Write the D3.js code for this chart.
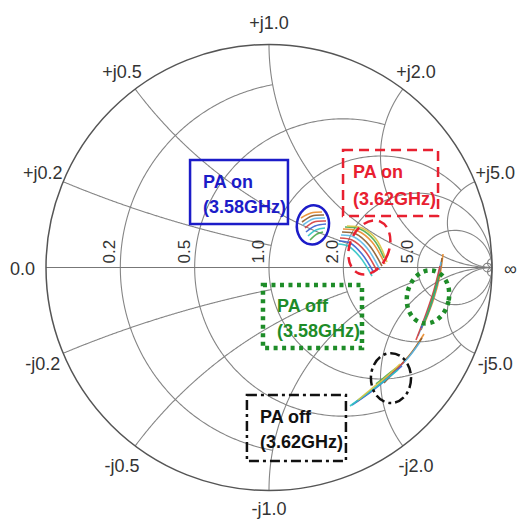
<!DOCTYPE html>
<html><head><meta charset="utf-8">
<script src="https://cdn.jsdelivr.net/npm/d3@7"></script>
<style>body{margin:0;background:#fff}svg{display:block}</style>
</head><body>
<svg id="c" width="517" height="522"></svg>
<script>
// ---------- grid definition (normalized impedance) ----------
const resistanceCircles = [0.2, 0.5, 1.0, 2.0, 5.0, 50];
const resistanceLimits  = [1, 2, 5, Infinity, Infinity, Infinity];   // |x| extent of each r circle
const reactanceArcs     = [0.2, 0.5, 1.0, 2.0, 5.0, 50];
const reactanceLimits   = [1, 2, 5, Infinity, Infinity, Infinity];   // r extent of each x arc
const resistanceLabels  = ["0.2", "0.5", "1.0", "2.0", "5.0"];
const reactanceLabelsPos = ["+j0.2", "+j0.5", "+j1.0", "+j2.0", "+j5.0"];
const reactanceLabelsNeg = ["-j0.2", "-j0.5", "-j1.0", "-j2.0", "-j5.0"];

// ---------- measured reflection coefficients [Re(Γ), Im(Γ)] ----------
const paOn358 = [
  [[0.1435,0.2220],[0.1883,0.2444],[0.2377,0.2489]],
  [[0.1480,0.2040],[0.1928,0.2309],[0.2466,0.2354]],
  [[0.1525,0.1906],[0.1973,0.2175],[0.2511,0.2220]],
  [[0.1614,0.1771],[0.2018,0.2040],[0.2556,0.2085]],
  [[0.1659,0.1592],[0.2063,0.1861],[0.2556,0.1951]],
  [[0.1749,0.1413],[0.2108,0.1682],[0.2511,0.1771]],
  [[0.1839,0.1233],[0.2152,0.1502],[0.2422,0.1592]]
];
const paOn362 = [
  [[0.3318,0.1726],[0.3991,0.1637],[0.4619,0.1143],[0.5202,0.0157]],
  [[0.3274,0.1592],[0.3901,0.1502],[0.4484,0.1009],[0.5067,0.0067]],
  [[0.3229,0.1457],[0.3812,0.1368],[0.4395,0.0874],[0.4978,-0.0112]],
  [[0.3184,0.1323],[0.3722,0.1233],[0.4305,0.0740],[0.4843,-0.0157]],
  [[0.3139,0.1188],[0.3632,0.1099],[0.4170,0.0605],[0.4709,-0.0247]],
  [[0.3094,0.1054],[0.3543,0.0964],[0.4081,0.0471],[0.4619,-0.0381]],
  [[0.3408,0.1816],[0.4081,0.1726],[0.4709,0.1233],[0.5157,0.0426]],
  [[0.3498,0.1861],[0.4170,0.1771],[0.4798,0.1278],[0.5291,0.0247]]
];
const paOff358 = [
  [[0.7803,0.0605],[0.7668,-0.0336],[0.7399,-0.1368],[0.6996,-0.2444]],
  [[0.7758,0.0426],[0.7578,-0.0561],[0.7265,-0.1592],[0.6816,-0.2803]],
  [[0.7713,0.0247],[0.7489,-0.0785],[0.7130,-0.1906],[0.6682,-0.3072]],
  [[0.7668,0.0067],[0.7399,-0.1009],[0.7040,-0.2085],[0.6592,-0.3251]],
  [[0.7578,-0.0561],[0.7399,-0.1233],[0.7130,-0.2040],[0.6816,-0.2713]],
  [[0.7534,-0.0740],[0.7354,-0.1368],[0.7085,-0.2130],[0.6861,-0.2623]],
  [[0.7623,-0.0336],[0.7444,-0.1009],[0.7175,-0.1906],[0.6906,-0.2578]]
];
const paOff362 = [
  [[0.6951,-0.2982],[0.6413,-0.3789],[0.5785,-0.4507],[0.5247,-0.5045]],
  [[0.6861,-0.3161],[0.6323,-0.3924],[0.5695,-0.4596],[0.5157,-0.5179]],
  [[0.6771,-0.3341],[0.6233,-0.4058],[0.5605,-0.4686]],
  [[0.6054,-0.4238],[0.5426,-0.4821],[0.4753,-0.5404],[0.3901,-0.6031]],
  [[0.5964,-0.4417],[0.5336,-0.4955],[0.4619,-0.5538],[0.3722,-0.6166]],
  [[0.5785,-0.4596],[0.5157,-0.5090],[0.4439,-0.5628],[0.3632,-0.6211]],
  [[0.5695,-0.4507],[0.5247,-0.4865],[0.4798,-0.5224]],
  [[0.5874,-0.4327],[0.5247,-0.4910],[0.4529,-0.5493],[0.3991,-0.5942]]
];
const annotationTitles = ["PA on", "PA on", "PA off", "PA off"];
const annotationFreqs  = ["(3.58GHz)", "(3.62GHz)", "(3.58GHz)", "(3.62GHz)"];

// ---------- layout / styles ----------
const cx = 269, cy = 267.5, R = 223;
const sx = d3.scaleLinear().domain([-1, 1]).range([cx - R, cx + R]);
const sy = d3.scaleLinear().domain([-1, 1]).range([cy + R, cy - R]);
const traceColors = ["#e8892a","#8b5a2b","#5bb8e8","#d43c3c","#3a5fd0","#2cc4c4","#4aa84a","#d8c440","#9a4ec0"];
const svg = d3.select("#c");
const line = d3.line().x(d => sx(d[0])).y(d => sy(d[1]));
const smooth = d3.line().x(d => sx(d[0])).y(d => sy(d[1])).curve(d3.curveCatmullRom);

function gam(r, x) {
  const d = (r + 1) * (r + 1) + x * x;
  return [(r * r + x * x - 1) / d, 2 * x / d];
}
function rPath(r, x0, x1) {
  const a = Math.atan(x0), b = Math.atan(x1), pts = [];
  for (let i = 0; i <= 300; i++) { const t = Math.tan(a + (b - a) * i / 300); pts.push(gam(r, t)); }
  return pts;
}
function xPath(x, r0, r1) {
  const a = Math.atan(r0), b = Math.atan(r1), pts = [];
  for (let i = 0; i <= 300; i++) { const s = Math.tan(a + (b - a) * i / 300); pts.push(gam(s, x)); }
  return pts;
}

const grid = svg.append("g").attr("fill", "none").attr("stroke", "#858585").attr("stroke-width", 1.1);
resistanceCircles.forEach((r, i) => {
  const lim = resistanceLimits[i];
  grid.append("path").attr("d", line(rPath(r, -lim, lim)));
});
reactanceArcs.forEach((x, i) => {
  const lim = reactanceLimits[i];
  grid.append("path").attr("d", line(xPath(x, 0, lim)));
  grid.append("path").attr("d", line(xPath(-x, 0, lim)));
});
// real axis
grid.append("path").attr("d", line([[-1, 0], [1, 0]])).attr("stroke", "#777");
// outer circle
svg.append("circle").attr("cx", sx(0)).attr("cy", sy(0)).attr("r", sx(1) - sx(0))
  .attr("fill", "none").attr("stroke", "#555").attr("stroke-width", 1.5);

// labels
const lab = svg.append("g").attr("font-family", "'Liberation Sans', Arial, sans-serif")
  .attr("font-size", 18).attr("fill", "#333");
resistanceLabels.forEach((t, i) => {
  const g = gam(resistanceCircles[i], 0);
  lab.append("text").attr("transform", `translate(${sx(g[0]) - 5},${sy(0) - 4}) rotate(-90)`)
    .attr("font-size", 17).attr("text-anchor", "start").text(t);
});
reactanceLabelsPos.forEach((t, i) => {
  const x = reactanceArcs[i];
  [[x, t], [-x, reactanceLabelsNeg[i]]].forEach(([xx, s]) => {
    const g = gam(0, xx);
    const px = sx(g[0]) + g[0] * 22;
    const py = Math.min(sy(g[1]) - g[1] * 22 + (g[1] < 0 ? 2 : 0) + 6, 515);
    lab.append("text").attr("x", px).attr("y", py).attr("text-anchor", "middle").text(s);
  });
});
lab.append("text").attr("x", sx(-1) - 11).attr("y", sy(0) + 7).attr("text-anchor", "end").text("0.0");
lab.append("text").attr("x", sx(1) + 12).attr("y", sy(0) + 7).attr("text-anchor", "start").text("∞");

// traces
[paOn358, paOn362, paOff358, paOff362].forEach(group => {
  svg.append("g").selectAll("path").data(group).join("path")
    .attr("d", smooth).attr("fill", "none")
    .attr("stroke", (d, i) => traceColors[i % traceColors.length])
    .attr("stroke-width", 1.6).attr("stroke-opacity", 0.9);
});

// annotations (Γ coordinates)
const ann = [
  {col:"#1c1cc8", dash:null,       w:2.5, ell:[0.197,0.191,0.072,0.088,8],  box:[-0.354,0.482,0.085,0.195], tx:-0.296, ty:[0.357,0.244]},
  {col:"#e82030", dash:"10,6",     w:2.5, ell:[0.450,0.090,0.088,0.126,22], box:[0.332,0.527,0.758,0.231],  tx:0.377,  ty:[0.401,0.280]},
  {col:"#1e8c28", dash:"4,4.5",    w:4.5, ell:[0.713,-0.132,0.094,0.120,12],box:[-0.027,-0.078,0.417,-0.361], tx:0.036, ty:[-0.200,-0.312]},
  {col:"#111111", dash:"10,4,3,4", w:2.5, ell:[0.547,-0.496,0.090,0.112,0], box:[-0.099,-0.572,0.345,-0.868], tx:-0.040, ty:[-0.697,-0.809]}
];
const k = (sx(1) - sx(0));
ann.forEach((a, i) => {
  const g = svg.append("g").attr("fill", "none").attr("stroke", a.col).attr("stroke-width", a.w);
  if (a.dash) g.attr("stroke-dasharray", a.dash);
  const [ex, ey, rx, ry, rot] = a.ell;
  g.append("ellipse").attr("transform", `translate(${sx(ex)},${sy(ey)}) rotate(${rot})`)
    .attr("rx", rx * k).attr("ry", ry * k);
  const [u0, v0, u1, v1] = a.box;
  g.append("rect").attr("x", sx(u0)).attr("y", sy(v0)).attr("width", sx(u1) - sx(u0)).attr("height", sy(v1) - sy(v0));
  const t = svg.append("g").attr("font-family", "'Liberation Sans', Arial, sans-serif")
    .attr("font-size", 18).attr("font-weight", "bold").attr("fill", a.col);
  t.append("text").attr("x", sx(a.tx)).attr("y", sy(a.ty[0])).text(annotationTitles[i]);
  t.append("text").attr("x", sx(a.tx)).attr("y", sy(a.ty[1])).text(annotationFreqs[i]);
});
</script>
</body></html>
